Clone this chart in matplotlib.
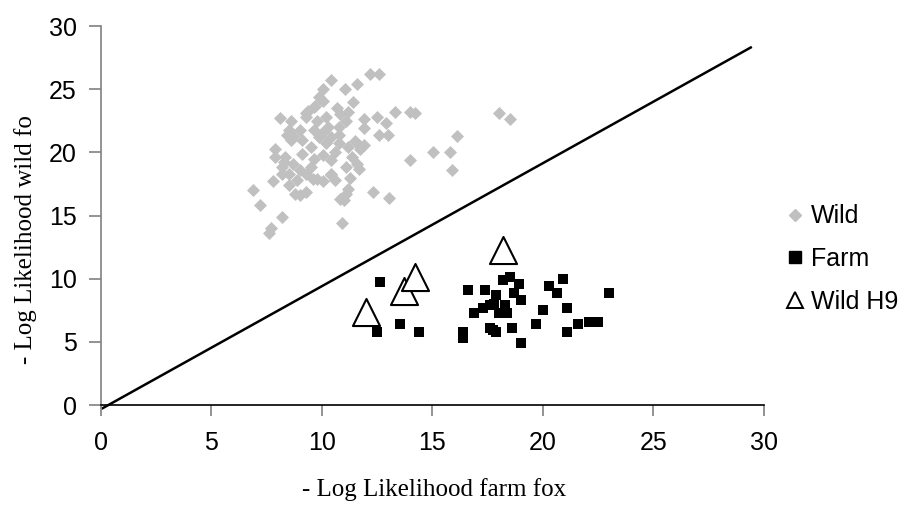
import matplotlib
matplotlib.use("Agg")
import matplotlib.pyplot as plt
from matplotlib.lines import Line2D

# Wild fox: (-log L farm, -log L wild)
wild_x = [6.9, 7.2, 7.7, 7.6, 8.2, 7.8, 8.1, 7.9, 7.9, 10.4, 10.05, 9.9, 11.05, 11.6,
          12.2, 12.6, 11.4, 13.3, 14.0, 14.2, 18.0, 18.5, 12.5, 12.9, 12.6, 13.0,
          11.9, 11.9, 14.0, 15.05, 15.8, 15.9, 16.1, 12.3, 13.05, 10.9, 11.1, 11.0,
          11.2, 10.4, 9.8, 8.8, 9.0, 9.3, 8.5, 8.2,
          8.5, 8.6, 8.35, 8.7, 9.1, 9.0, 9.5, 9.5, 9.9, 9.4, 9.65, 9.3, 9.8, 10.2,
          10.3, 10.0, 10.4, 10.8, 11.1, 11.2, 10.7, 10.8, 11.2, 10.6, 10.05, 9.65,
          10.4, 11.35, 11.6, 11.1, 10.4, 10.05, 9.3, 8.9, 8.2, 8.5, 9.1, 9.65,
          9.0, 8.6, 11.5, 11.75, 10.2, 10.8, 10.05, 8.45, 8.7, 8.3, 10.85, 11.8,
          11.7, 11.3, 10.6, 9.6, 9.7, 9.3, 10.85, 11.9]
wild_y = [17.0, 15.8, 14.0, 13.6, 14.9, 17.7, 22.7, 20.3, 19.6, 25.7, 25.0, 24.4, 25.0, 25.4,
          26.2, 26.2, 24.0, 23.2, 23.2, 23.1, 23.1, 22.6, 22.8, 22.3, 21.4, 21.4,
          21.9, 20.6, 19.4, 20.0, 20.0, 18.6, 21.3, 16.9, 16.4, 14.4, 16.7, 16.2,
          17.1, 18.3, 17.9, 16.7, 16.6, 16.9, 17.4, 18.3,
          21.75, 21.0, 19.6, 19.1, 19.9, 18.6, 18.85, 20.4, 21.2, 23.3, 23.6, 22.8, 22.5, 22.8,
          22.0, 21.5, 21.2, 22.0, 22.5, 23.2, 23.5, 20.7, 20.4, 20.0, 19.8, 19.5,
          19.4, 19.6, 19.1, 18.85, 18.2, 17.7, 18.3, 17.8, 18.85, 18.3, 21.0, 21.75,
          21.75, 22.5, 20.9, 20.3, 20.7, 21.4, 24.1, 21.4, 21.3, 19.2, 16.3, 20.4,
          18.7, 18.0, 17.8, 17.9, 23.7, 23.1, 23.0, 22.6]

farm_x = [12.5, 12.65, 13.55, 14.4, 16.4, 16.4, 16.6, 16.9, 17.3, 17.4, 17.6, 17.8,
          17.9, 18.0, 18.3, 18.4, 18.2, 18.5, 18.9, 18.7, 19.0, 20.0, 20.3, 20.65,
          20.9, 21.1, 19.7, 21.6, 22.1, 22.5, 21.1, 18.6, 19.0, 17.6, 17.9, 17.75,
          23.0]
farm_y = [5.8, 9.7, 6.4, 5.8, 5.8, 5.3, 9.1, 7.3, 7.7, 9.1, 7.9, 8.0,
          8.7, 7.3, 7.9, 7.3, 9.9, 10.1, 9.6, 8.9, 8.3, 7.5, 9.4, 8.9,
          10.0, 7.7, 6.4, 6.4, 6.6, 6.6, 5.8, 6.1, 4.9, 6.1, 5.8, 5.9,
          8.9]

h9_x = [12.0, 13.7, 14.2, 18.2]
h9_y = [7.4, 9.0, 10.1, 12.3]

line_x = [0.1, 29.4]
line_y = [-0.25, 28.3]

ticks = [0, 5, 10, 15, 20, 25, 30]
labels = ["Wild", "Farm", "Wild H9"]

fig = plt.figure(figsize=(9.03, 5.05), dpi=100)
ax = fig.add_axes([0.1113, 0.198, 0.7348, 0.7505])

ax.plot(line_x, line_y, color="black", lw=1.8, zorder=1, clip_on=False)
ax.scatter(wild_x, wild_y, marker="D", s=44, color="#c0c0c0", linewidths=0, zorder=2)
ax.scatter(farm_x, farm_y, marker="s", s=55, color="black", linewidths=0, zorder=3)
ax.scatter(h9_x, h9_y, marker="^", s=380, facecolor="white", edgecolor="black",
           linewidths=1.5, zorder=4)

ax.set_xlim(0, 30)
ax.set_ylim(0, 30)
ax.set_xticks(ticks)
ax.set_yticks(ticks)
for s in ["top", "right"]:
    ax.spines[s].set_visible(False)
ax.spines["left"].set_color("#808080")
ax.spines["left"].set_linewidth(1.2)
ax.spines["bottom"].set_color("black")
ax.spines["bottom"].set_linewidth(1.2)
ax.tick_params(axis="x", direction="out", length=8, width=1.2, color="#808080", labelsize=18, pad=11)
ax.tick_params(axis="y", direction="out", length=9, width=1.2, color="#808080", labelsize=18, pad=8)
for lab in ax.get_xticklabels() + ax.get_yticklabels():
    lab.set_fontfamily("Liberation Sans")

# axis titles placed like the original (x title sits close to the bottom edge)
fig.text(434 / 903, 1 - 496 / 505, "- Log Likelihood farm fox", family="Liberation Serif",
         fontsize=18, ha="center", va="baseline")
fig.text(26 / 903, 1 - 240 / 505, "- Log Likelihood wild fo", family="Liberation Serif",
         fontsize=18, rotation=90, ha="center", va="center")

handles = [
    Line2D([], [], ls="none", marker="D", ms=6, mfc="#c0c0c0", mec="#c0c0c0"),
    Line2D([], [], ls="none", marker="s", ms=8, mfc="black", mec="black"),
    Line2D([], [], ls="none", marker="^", ms=12, mfc="white", mec="black", mew=1.4),
]
fig.legend(handles, labels, loc="center left", bbox_to_anchor=(785 / 903, 1 - 259 / 505),
           frameon=False, handlelength=0.8, handletextpad=0.25, labelspacing=0.75,
           borderpad=0, borderaxespad=0, prop={"family": "Liberation Sans", "size": 18})

fig.savefig("out.png", dpi=100)
